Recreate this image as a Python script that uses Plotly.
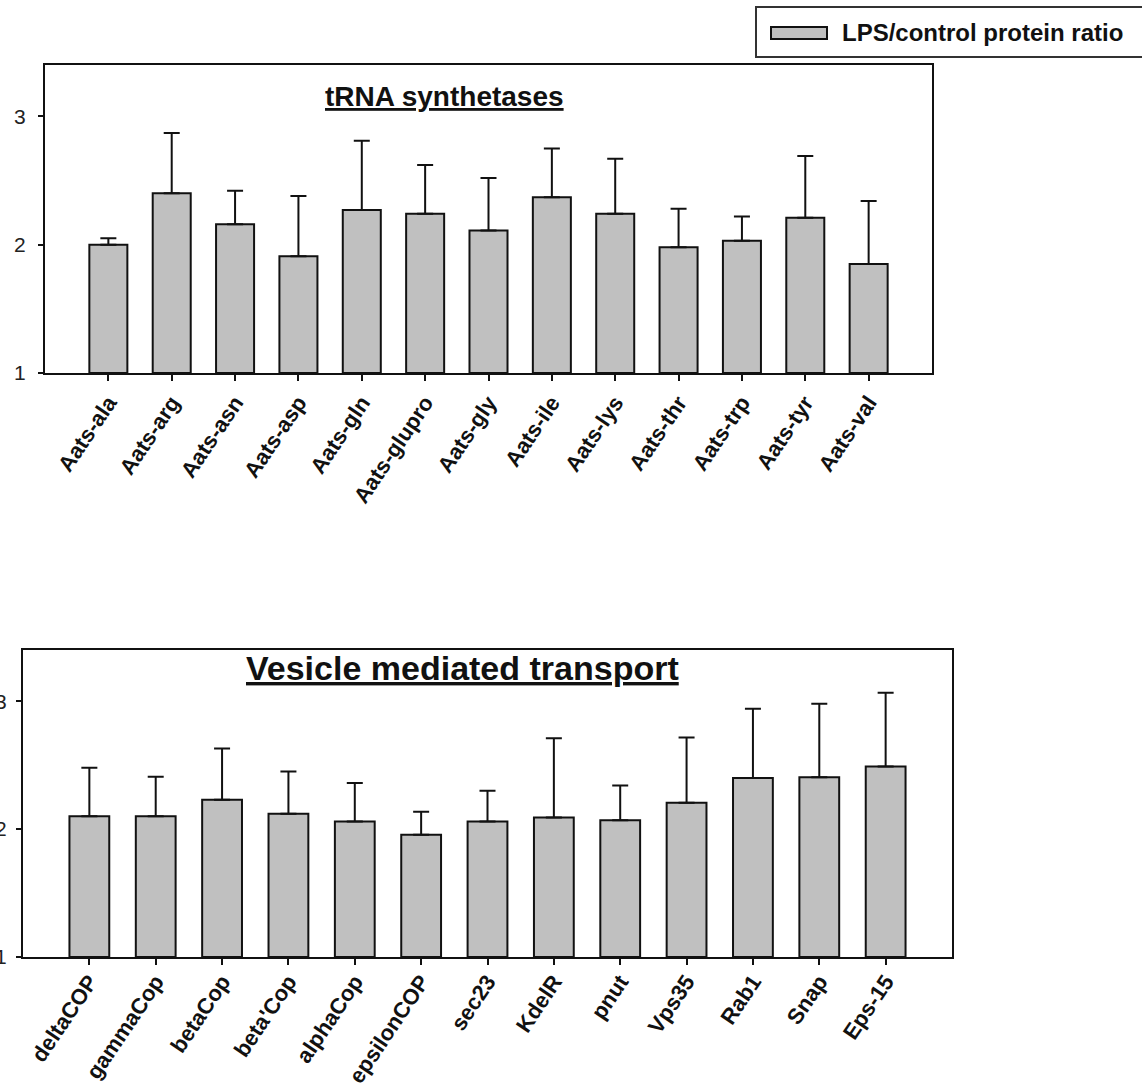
import plotly.graph_objects as go

# tRNA synthetases panel
trna_genes = ["Aats-ala", "Aats-arg", "Aats-asn", "Aats-asp", "Aats-gln",
              "Aats-glupro", "Aats-gly", "Aats-ile", "Aats-lys", "Aats-thr",
              "Aats-trp", "Aats-tyr", "Aats-val"]
trna_ratio = [2.00, 2.40, 2.16, 1.91, 2.27, 2.24, 2.11, 2.37, 2.24, 1.98, 2.03, 2.21, 1.85]
trna_err = [0.05, 0.47, 0.26, 0.47, 0.54, 0.38, 0.41, 0.38, 0.43, 0.30, 0.19, 0.48, 0.49]

# Vesicle mediated transport panel
ves_genes = ["deltaCOP", "gammaCop", "betaCop", "beta'Cop", "alphaCop",
             "epsilonCOP", "sec23", "KdelR", "pnut", "Vps35", "Rab1", "Snap", "Eps-15"]
ves_ratio = [2.10, 2.10, 2.23, 2.12, 2.06, 1.955, 2.06, 2.09, 2.07, 2.205, 2.40, 2.405, 2.49]
ves_err = [0.38, 0.31, 0.40, 0.33, 0.30, 0.18, 0.24, 0.62, 0.27, 0.51, 0.54, 0.575, 0.575]

series_name = "LPS/control protein ratio"
y_ticks = [1, 2, 3]

W, H = 1142, 1086
FONT = "Liberation Sans, Arial, sans-serif"
BAR_FILL = "#c0c0c0"
INK = "#111111"


def px_x(p):
    return p / W


def px_y(p):
    return 1 - p / H


def bar_trace(names, vals, errs, xa, ya):
    return go.Bar(
        x=names, y=[v - 1 for v in vals], base=1,
        xaxis=xa, yaxis=ya, width=0.6,
        name=series_name, showlegend=False,
        marker=dict(color=BAR_FILL, line=dict(color=INK, width=2)),
        error_y=dict(type="data", symmetric=False, array=errs,
                     arrayminus=[0] * len(errs), color=INK,
                     thickness=2, width=8),
    )


fig = go.Figure()
fig.add_trace(bar_trace(trna_genes, trna_ratio, trna_err, "x", "y"))
fig.add_trace(bar_trace(ves_genes, ves_ratio, ves_err, "x2", "y2"))

xaxis_common = dict(
    type="category", range=[-1, 13], showline=True, mirror=True,
    linecolor=INK, linewidth=2, ticks="outside", ticklen=6, tickwidth=2,
    tickcolor=INK, tickangle=-56, showgrid=False, zeroline=False,
    automargin=False,
    tickfont=dict(family=FONT, size=22, color=INK, weight="bold"),
)
yaxis_common = dict(
    range=[1, 3.4], tickvals=y_ticks, showline=True, mirror=True,
    linecolor=INK, linewidth=2, ticks="outside", ticklen=5, tickwidth=2,
    tickcolor=INK, showgrid=False, zeroline=False,
    automargin=False,
    tickfont=dict(family=FONT, size=21, color="#222222"),
)

fig.update_layout(
    width=W, height=H, margin=dict(l=0, r=0, t=0, b=0, autoexpand=False),
    paper_bgcolor="white", plot_bgcolor="white", showlegend=False,
    xaxis=dict(xaxis_common, domain=[px_x(45), px_x(932)], anchor="y"),
    yaxis=dict(yaxis_common, domain=[px_y(373), px_y(65)], anchor="x",
               ticklabelstandoff=8),
    xaxis2=dict(xaxis_common, domain=[px_x(23), px_x(952)], anchor="y2",
                ticklabelstandoff=-5),
    yaxis2=dict(yaxis_common, domain=[px_y(957), px_y(650)], anchor="x2",
                ticklabelstandoff=5),
)

# Panel titles
fig.add_annotation(text="<b><u>tRNA synthetases</u></b>", xref="paper", yref="paper",
                   x=px_x(444), y=px_y(96), xanchor="center", yanchor="middle",
                   showarrow=False, font=dict(family=FONT, size=28, color=INK))
fig.add_annotation(text="<b><u>Vesicle mediated transport</u></b>", xref="paper", yref="paper",
                   x=px_x(462), y=px_y(668), xanchor="center", yanchor="middle",
                   showarrow=False, font=dict(family=FONT, size=34, color=INK))

# Legend box with swatch
fig.add_shape(type="rect", xref="paper", yref="paper",
              x0=px_x(756), x1=px_x(1160), y0=px_y(57), y1=px_y(7),
              line=dict(color="#333333", width=2), fillcolor="white")
fig.add_shape(type="rect", xref="paper", yref="paper",
              x0=px_x(771), x1=px_x(827), y0=px_y(39), y1=px_y(27),
              line=dict(color=INK, width=2), fillcolor=BAR_FILL)
fig.add_annotation(text="<b>" + series_name + "</b>", xref="paper", yref="paper",
                   x=px_x(840), y=px_y(33), xanchor="left", yanchor="middle",
                   showarrow=False, font=dict(family=FONT, size=24, color=INK))

fig.write_html("out.html")
